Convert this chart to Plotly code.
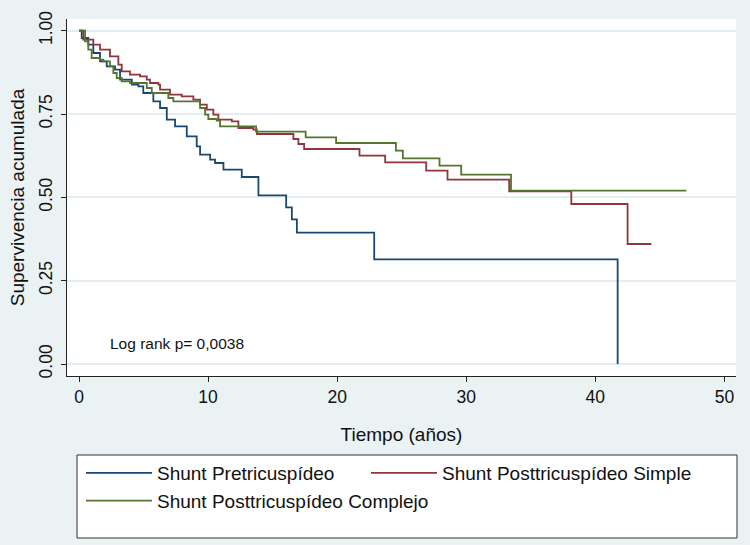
import plotly.graph_objects as go

# ---- data ----
names = ["Shunt Pretricuspídeo", "Shunt Posttricuspídeo Simple", "Shunt Posttricuspídeo Complejo"]
colors = ["#1a476f", "#90353b", "#55752f"]

t_pre = [0, 0.21, 0.72, 1.11, 1.63, 2.15, 2.79, 3.18, 4.09, 4.60, 4.98, 5.76, 6.28, 6.80,
         7.44, 8.35, 9.12, 9.38, 10.16, 10.54, 11.19, 12.61, 13.90, 16.05, 16.49, 16.88,
         22.87, 41.73]
s_pre = [1.0, 0.978, 0.958, 0.933, 0.908, 0.893, 0.883, 0.853, 0.838, 0.833, 0.813, 0.788,
         0.768, 0.733, 0.713, 0.683, 0.653, 0.628, 0.613, 0.603, 0.583, 0.561, 0.506, 0.470,
         0.434, 0.394, 0.314, 0.0]

t_simple = [0, 0.33, 1.11, 1.63, 2.40, 3.05, 3.31, 3.95, 4.73, 5.25, 5.50, 6.15, 6.28, 7.05,
            7.96, 8.86, 9.38, 9.90, 10.41, 10.80, 11.84, 12.35, 13.51, 13.78, 16.61, 17.00,
            17.44, 21.73, 23.72, 26.90, 28.55, 33.33, 38.14, 42.50, 44.34]
s_simple = [1.0, 0.973, 0.958, 0.943, 0.923, 0.898, 0.878, 0.868, 0.863, 0.853, 0.843, 0.838,
            0.823, 0.808, 0.803, 0.793, 0.778, 0.763, 0.748, 0.733, 0.728, 0.708, 0.703, 0.690,
            0.675, 0.660, 0.645, 0.625, 0.605, 0.580, 0.553, 0.518, 0.480, 0.360, 0.360]

t_complex = [0, 0.47, 0.72, 0.98, 1.63, 1.88, 2.40, 2.66, 2.92, 3.31, 3.95, 5.25, 5.64, 6.92,
             7.31, 9.38, 9.77, 10.02, 10.67, 10.93, 13.72, 17.56, 19.92, 24.55, 25.09, 27.93,
             29.61, 33.47, 47.05]
s_complex = [1.0, 0.968, 0.943, 0.918, 0.913, 0.908, 0.893, 0.873, 0.858, 0.848, 0.843, 0.828,
             0.813, 0.798, 0.788, 0.768, 0.748, 0.735, 0.730, 0.713, 0.697, 0.680, 0.663, 0.640,
             0.617, 0.595, 0.568, 0.520, 0.520]

x_ticks = [0, 10, 20, 30, 40, 50]
y_ticks = [0, 0.25, 0.5, 0.75, 1.0]
y_ticklabels = ["0.00", "0.25", "0.50", "0.75", "1.00"]
annot_text = "Log rank p= 0,0038"

FONT = "Liberation Sans, Arial, sans-serif"
BG = "#EAF2F3"

fig = go.Figure()
legend_ids = ["legend", "legend2", "legend"]
for name, col, t, s, lg in zip(names, colors, [t_pre, t_simple, t_complex],
                               [s_pre, s_simple, s_complex], legend_ids):
    fig.add_trace(go.Scatter(x=t, y=s, mode="lines", name=name, legend=lg,
                             line=dict(color=col, width=1.8, shape="hv")))

fig.add_annotation(x=2.25, y=0.063, xref="x", yref="y", text=annot_text, showarrow=False,
                   xanchor="left", yanchor="middle", font=dict(size=15.5, color="#111", family=FONT))

# legend box
fig.add_shape(type="rect", xref="paper", yref="paper", x0=0.01495, x1=1.0015, y0=-0.4538, y1=-0.2213,
              line=dict(color="#333333", width=1), fillcolor="white", layer="below")

leg_common = dict(orientation="v", xanchor="left", yanchor="top", bgcolor="rgba(0,0,0,0)",
                  borderwidth=0, font=dict(size=19, family=FONT, color="#111"),
                  itemwidth=66, traceorder="normal")

fig.update_layout(
    width=750, height=545,
    margin=dict(l=67, r=14, t=19, b=169),
    paper_bgcolor=BG, plot_bgcolor="white",
    font=dict(family=FONT, color="#111"),
    showlegend=True,
    legend=dict(x=0.0209, y=-0.2185, **leg_common),
    legend2=dict(x=0.4469, y=-0.2185, **leg_common),
    xaxis=dict(range=[-0.93, 50.9], tickvals=x_ticks, ticks="outside", ticklen=5, tickcolor="#222",
               showline=True, linecolor="#222", linewidth=1, showgrid=False, zeroline=False,
               tickfont=dict(size=17.5), title=dict(text="Tiempo (años)", font=dict(size=19), standoff=21)),
    yaxis=dict(range=[-0.036, 1.035], tickvals=y_ticks, ticktext=y_ticklabels, tickangle=-90,
               ticks="outside", ticklen=5, tickcolor="#222", showline=True, linecolor="#222", linewidth=1,
               showgrid=True, gridcolor="#E4EDEF", gridwidth=1.5, zeroline=False, ticklabelstandoff=2,
               tickfont=dict(size=17.5), title=dict(text="Supervivencia acumulada", font=dict(size=19), standoff=6)),
)

fig.write_html("out.html", config={"displayModeBar": False},
               post_script="document.body.style.margin='0';")
